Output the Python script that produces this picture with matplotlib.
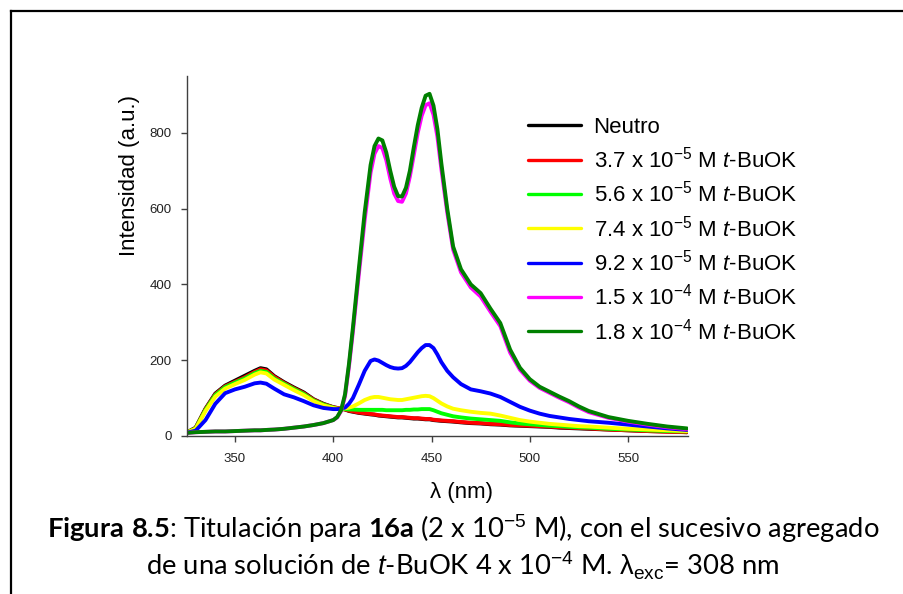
import matplotlib
matplotlib.use("Agg")
import matplotlib.pyplot as plt
from matplotlib.lines import Line2D

plt.rcParams['font.family'] = ['Liberation Sans', 'DejaVu Sans']
plt.rcParams['mathtext.fontset'] = 'custom'
plt.rcParams['mathtext.rm'] = 'Liberation Sans'
plt.rcParams['mathtext.it'] = 'Liberation Sans:italic'
plt.rcParams['mathtext.bf'] = 'Lato:bold'

# wavelengths (nm)
wl = [325, 330, 335, 340, 345, 350, 355, 360, 363, 366, 370, 375, 380, 385, 390, 395, 400,
      402, 404, 406, 408, 410,
      413, 416, 419, 421, 423, 425, 427, 429, 431, 433, 435, 437, 439, 441, 443, 445, 447,
      449, 451, 453, 455,
      458, 461, 465, 470, 475, 480, 485, 490, 495, 500, 505, 510, 515, 520, 525, 530,
      540, 550, 560, 570, 580]

# emission intensities (a.u.) for each addition of t-BuOK
neutro = [8, 22, 72, 112, 133, 146, 159, 172, 179, 176, 158, 142, 128, 115, 97, 85, 76,
          74, 72, 70, 66, 64,
          61, 59, 57, 56, 54, 53, 52, 51, 50, 49, 49, 48, 47, 46, 46, 45, 44, 44, 42, 41, 40,
          39, 38, 36, 34, 33, 31, 30, 28, 27, 26, 25, 24, 22, 21, 20, 19,
          17, 15, 13, 12, 10]
c37 = [8, 21, 71, 110, 131, 143, 155, 169, 176, 173, 156, 140, 126, 113, 96, 84, 76,
       74, 72, 70, 67, 65,
       62, 60, 58, 57, 55, 54, 53, 52, 51, 50, 50, 49, 48, 47, 47, 46, 45, 45, 43, 42, 41,
       40, 39, 37, 35, 34, 32, 31, 29, 28, 27, 26, 25, 23, 22, 21, 20,
       17, 15, 13, 11, 10]
c56 = [8, 20, 69, 108, 129, 141, 152, 166, 172, 169, 152, 138, 124, 111, 94, 83, 75,
       72, 71, 71, 70, 70,
       69, 69, 69, 69, 69, 69, 68, 68, 68, 68, 68, 69, 69, 70, 70, 71, 71, 71, 68, 64, 60,
       56, 52, 49, 46, 44, 42, 40, 36, 33, 31, 29, 27, 26, 24, 23, 22,
       19, 17, 15, 13, 12]
c74 = [8, 19, 66, 104, 125, 137, 148, 162, 168, 165, 149, 135, 121, 108, 92, 81, 74,
       72, 72, 73, 75, 78,
       86, 95, 101, 103, 103, 101, 99, 97, 96, 95, 95, 97, 99, 101, 103, 105, 106, 105, 100, 93, 86,
       78, 72, 68, 64, 61, 59, 54, 48, 42, 38, 35, 32, 30, 28, 26, 25,
       22, 19, 17, 15, 13]
c92 = [8, 14, 42, 85, 113, 123, 130, 139, 141, 138, 125, 110, 102, 92, 81, 74, 71,
       71, 72, 75, 85, 100,
       135, 172, 198, 202, 199, 193, 187, 182, 179, 178, 179, 185, 195, 208, 221, 232, 240, 240,
       232, 215, 195,
       172, 155, 137, 123, 118, 112, 103, 90, 77, 67, 59, 53, 49, 45, 42, 39,
       35, 30, 25, 20, 16]
c15 = [8, 10, 11, 12, 12, 13, 14, 15, 15, 16, 17, 19, 22, 25, 29, 34, 42,
       49, 66, 105, 183, 275,
       425, 570, 695, 745, 765, 760, 728, 680, 640, 620, 618, 640, 685, 742, 800, 845, 873, 878,
       848, 790, 705,
       590, 492, 432, 392, 368, 328, 290, 220, 175, 146, 127, 114, 101, 89, 75, 63,
       48, 38, 30, 23, 18]
c18 = [8, 10, 11, 12, 12, 13, 14, 15, 15, 16, 17, 19, 22, 25, 29, 34, 42,
       50, 68, 110, 190, 285,
       440, 590, 715, 765, 785, 780, 748, 700, 658, 633, 632, 655, 700, 762, 820, 866, 898, 903,
       872, 810, 720,
       600, 500, 440, 400, 377, 336, 298, 228, 180, 150, 130, 117, 104, 92, 78, 66,
       50, 40, 32, 25, 20]

labels = ["Neutro",
          r"3.7 x 10$^{-5}$ M $\mathit{t}$-BuOK",
          r"5.6 x 10$^{-5}$ M $\mathit{t}$-BuOK",
          r"7.4 x 10$^{-5}$ M $\mathit{t}$-BuOK",
          r"9.2 x 10$^{-5}$ M $\mathit{t}$-BuOK",
          r"1.5 x 10$^{-4}$ M $\mathit{t}$-BuOK",
          r"1.8 x 10$^{-4}$ M $\mathit{t}$-BuOK"]
series = [neutro, c37, c56, c74, c92, c15, c18]
colors = ["#000000", "#ff0000", "#00ff00", "#ffff00", "#0000ff", "#ff00ff", "#008000"]

W, H = 904, 594
fig = plt.figure(figsize=(W / 100, H / 100), dpi=100)
ax = fig.add_axes([187 / W, 1 - 436 / H, (688 - 187) / W, (436 - 76) / H])

lines = []
for y, c, lab in zip(series, colors, labels):
    ln, = ax.plot(wl, y, color=c, lw=2.8, label=lab, solid_joinstyle='round',
                  solid_capstyle='round')
    lines.append(ln)

ax.set_xlim(325.6, 580.5)
ax.set_ylim(0, 950)
ax.set_xticks([350, 400, 450, 500, 550])
ax.set_yticks([0, 200, 400, 600, 800])
for s in ['top', 'right']:
    ax.spines[s].set_visible(False)
for s in ['left', 'bottom']:
    ax.spines[s].set_color('#404040')
    ax.spines[s].set_linewidth(1.0)
ax.tick_params(direction='out', length=4, width=1, color='#404040',
               labelsize=9.5, labelcolor='#222222')
ax.tick_params(axis='x', pad=8)
ax.tick_params(axis='y', pad=7)

ax.set_xlabel("λ (nm)", fontsize=16)
ax.xaxis.set_label_coords((462 - 187) / 501, (436 - 482) / 360)
ax.set_ylabel("Intensidad (a.u.)", fontsize=16)
ax.yaxis.set_label_coords((140 - 187) / 501, (436 - 175) / 360)

leg = ax.legend(handles=lines, loc='upper left', bbox_to_anchor=(528 / W, 1 - 117 / H),
                bbox_transform=fig.transFigure, frameon=False, fontsize=16,
                handlelength=2.4, handletextpad=0.55, labelspacing=0.38,
                borderpad=0, borderaxespad=0)
for h in leg.get_lines():
    h.set_linewidth(2.4)

# caption
cap1 = r"$\mathbf{Figura\ 8.5}$: Titulación para $\mathbf{16a}$ (2 x 10$^{-5}$ M), con el sucesivo agregado"
cap2 = r"de una solución de $\mathit{t}$-BuOK 4 x 10$^{-4}$ M. $\mathrm{\lambda}_{\mathrm{exc}}$= 308 nm"
fig.text(463 / W, 1 - 538 / H, cap1, ha='center', va='baseline', fontsize=19.7,
         family=['Lato', 'DejaVu Sans'])
fig.text(463 / W, 1 - 575 / H, cap2, ha='center', va='baseline', fontsize=19.7,
         family=['Lato', 'DejaVu Sans'])

# page frame
fig.add_artist(Line2D([11 / W, 1], [1 - 11 / H, 1 - 11 / H], color='black', lw=1.6,
                      transform=fig.transFigure))
fig.add_artist(Line2D([11 / W, 11 / W], [0, 1 - 11 / H], color='black', lw=1.6,
                      transform=fig.transFigure))

fig.savefig("out.png", dpi=100)
